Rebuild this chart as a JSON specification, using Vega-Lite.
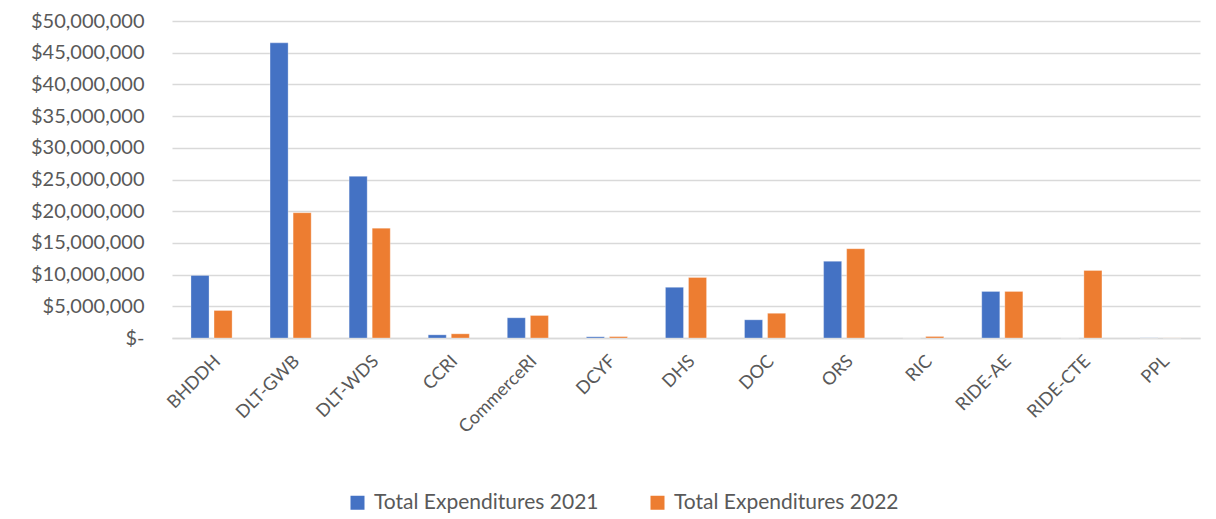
{
  "$schema": "https://vega.github.io/schema/vega-lite/v6.json",
  "width": 1028,
  "height": 317,
  "autosize": {"type": "none"},
  "padding": {"left": 172, "top": 21, "right": 16, "bottom": 181},
  "background": "white",
  "data": {
    "values": [
      {"agency": "BHDDH", "series": "Total Expenditures 2021", "value": 9870000},
      {"agency": "BHDDH", "series": "Total Expenditures 2022", "value": 4340000},
      {"agency": "DLT-GWB", "series": "Total Expenditures 2021", "value": 46550000},
      {"agency": "DLT-GWB", "series": "Total Expenditures 2022", "value": 19760000},
      {"agency": "DLT-WDS", "series": "Total Expenditures 2021", "value": 25500000},
      {"agency": "DLT-WDS", "series": "Total Expenditures 2022", "value": 17330000},
      {"agency": "CCRI", "series": "Total Expenditures 2021", "value": 500000},
      {"agency": "CCRI", "series": "Total Expenditures 2022", "value": 660000},
      {"agency": "CommerceRI", "series": "Total Expenditures 2021", "value": 3190000},
      {"agency": "CommerceRI", "series": "Total Expenditures 2022", "value": 3550000},
      {"agency": "DCYF", "series": "Total Expenditures 2021", "value": 190000},
      {"agency": "DCYF", "series": "Total Expenditures 2022", "value": 220000},
      {"agency": "DHS", "series": "Total Expenditures 2021", "value": 8000000},
      {"agency": "DHS", "series": "Total Expenditures 2022", "value": 9550000},
      {"agency": "DOC", "series": "Total Expenditures 2021", "value": 2870000},
      {"agency": "DOC", "series": "Total Expenditures 2022", "value": 3900000},
      {"agency": "ORS", "series": "Total Expenditures 2021", "value": 12100000},
      {"agency": "ORS", "series": "Total Expenditures 2022", "value": 14080000},
      {"agency": "RIC", "series": "Total Expenditures 2021", "value": 0},
      {"agency": "RIC", "series": "Total Expenditures 2022", "value": 240000},
      {"agency": "RIDE-AE", "series": "Total Expenditures 2021", "value": 7340000},
      {"agency": "RIDE-AE", "series": "Total Expenditures 2022", "value": 7340000},
      {"agency": "RIDE-CTE", "series": "Total Expenditures 2021", "value": 0},
      {"agency": "RIDE-CTE", "series": "Total Expenditures 2022", "value": 10650000},
      {"agency": "PPL", "series": "Total Expenditures 2021", "value": 20000},
      {"agency": "PPL", "series": "Total Expenditures 2022", "value": 10000}
    ]
  },
  "mark": {"type": "bar", "stroke": "white", "strokeWidth": 0.5, "strokeOpacity": 0.6},
  "encoding": {
    "x": {
      "field": "agency",
      "type": "nominal",
      "sort": null,
      "scale": {"paddingInner": 0.48, "paddingOuter": 0.24},
      "axis": {
        "title": null,
        "labelAngle": -45,
        "labelFont": "Lato",
        "labelFontSize": 18,
        "labelColor": "#595959",
        "labelPadding": 14,
        "labelLimit": 0,
        "ticks": false,
        "domain": true,
        "domainColor": "#d9d9d9",
        "domainWidth": 1.5
      }
    },
    "xOffset": {
      "field": "series",
      "type": "nominal",
      "scale": {"paddingInner": 0.217, "paddingOuter": 0}
    },
    "y": {
      "field": "value",
      "type": "quantitative",
      "scale": {"domain": [0, 50000000]},
      "axis": {
        "title": null,
        "values": [0, 5000000, 10000000, 15000000, 20000000, 25000000, 30000000, 35000000, 40000000, 45000000, 50000000],
        "labelExpr": "datum.value == 0 ? '$-\u00a0\u00a0\u00a0' : format(datum.value, '$,.0f')",
        "labelFont": "Lato",
        "labelFontSize": 20,
        "labelColor": "#595959",
        "labelPadding": 28,
        "labelLimit": 0,
        "ticks": false,
        "domain": false,
        "grid": true,
        "gridColor": "#d9d9d9",
        "gridWidth": 1.5
      }
    },
    "color": {
      "field": "series",
      "type": "nominal",
      "scale": {"range": ["#4472C4", "#ED7D31"]},
      "legend": {
        "title": null,
        "orient": "none",
        "direction": "horizontal",
        "legendX": 175,
        "legendY": 471,
        "symbolType": "square",
        "symbolSize": 196,
        "symbolStrokeWidth": 0,
        "labelFont": "Lato",
        "labelFontSize": 21,
        "labelColor": "#595959",
        "labelLimit": 0,
        "columnPadding": 48,
        "labelOffset": 6
      }
    }
  },
  "config": {
    "view": {"stroke": null}
  }
}
